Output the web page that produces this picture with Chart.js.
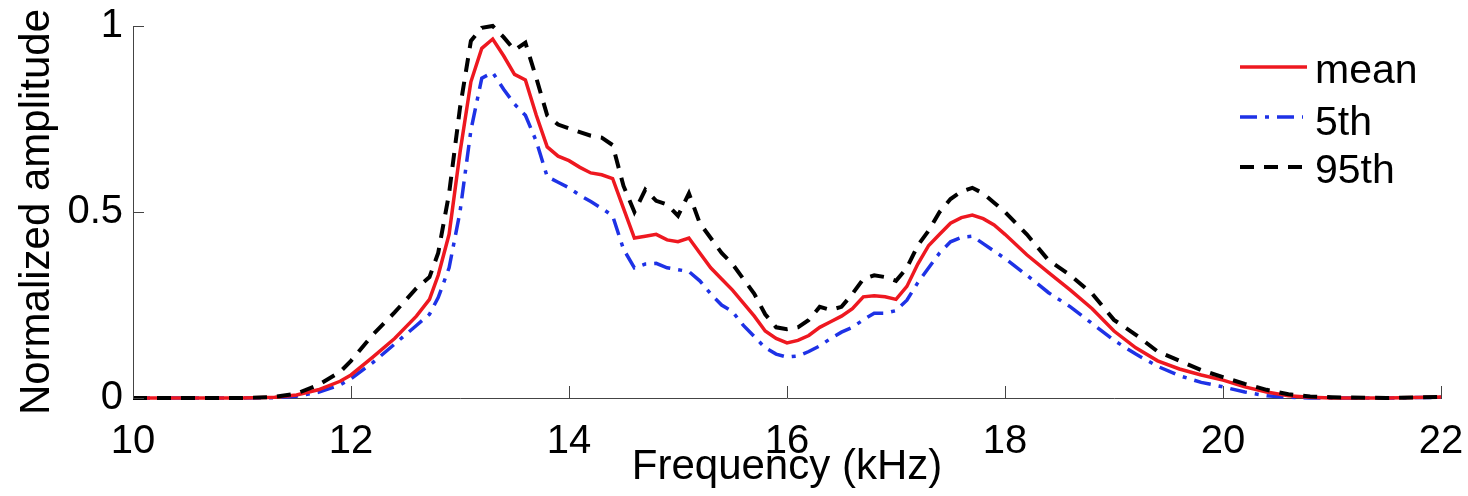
<!DOCTYPE html>
<html>
<head>
<meta charset="utf-8">
<script src="https://cdn.jsdelivr.net/npm/chart.js@4.4.0/dist/chart.umd.min.js"></script>
<style>
  html, body { margin: 0; padding: 0; background: #fff; }
  #wrap { width: 1468px; height: 496px; }
</style>
</head>
<body>
<div id="wrap"><canvas id="c"></canvas></div>
<script>
// frequency grid (kHz)
const freq = [10, 11, 11.3, 11.5, 11.7, 11.9, 12.0, 12.2, 12.4, 12.6, 12.72, 12.8, 12.9,
  13.0, 13.1, 13.2, 13.3, 13.4, 13.5, 13.6, 13.7, 13.8, 13.9,
  14.0, 14.1, 14.2, 14.3, 14.4, 14.5, 14.6, 14.7, 14.8, 14.9,
  15.0, 15.1, 15.2, 15.3, 15.4, 15.5, 15.6, 15.7, 15.8, 15.9,
  16.0, 16.1, 16.2, 16.3, 16.4, 16.5, 16.6, 16.7, 16.8, 16.9,
  17.0, 17.1, 17.2, 17.3, 17.4, 17.5, 17.6, 17.7, 17.8, 17.9,
  18.0, 18.2, 18.4, 18.6, 18.8, 19.0, 19.2, 19.4, 19.6, 19.8,
  20.0, 20.2, 20.4, 20.6, 20.8, 21.0, 21.5, 22];

const meanAmp = [0, 0, 0.002, 0.008, 0.022, 0.045, 0.062, 0.11, 0.16, 0.22, 0.265, 0.33, 0.44,
  0.66, 0.85, 0.94, 0.965, 0.92, 0.87, 0.855, 0.76, 0.675, 0.65,
  0.638, 0.62, 0.605, 0.60, 0.59, 0.51, 0.43, 0.435, 0.44, 0.425,
  0.42, 0.43, 0.39, 0.35, 0.32, 0.29, 0.255, 0.22, 0.18, 0.16,
  0.148, 0.155, 0.168, 0.19, 0.205, 0.22, 0.24, 0.272, 0.275, 0.272,
  0.265, 0.30, 0.36, 0.41, 0.44, 0.47, 0.485, 0.492, 0.482, 0.465,
  0.44, 0.385, 0.337, 0.29, 0.24, 0.18, 0.135, 0.10, 0.078, 0.062,
  0.048, 0.03, 0.016, 0.006, 0.002, 0, 0, 0.003];

const p5Amp = [0, 0, 0.001, 0.005, 0.015, 0.035, 0.052, 0.095, 0.145, 0.195, 0.225, 0.27, 0.35,
  0.50, 0.72, 0.86, 0.875, 0.83, 0.79, 0.76, 0.69, 0.595, 0.58,
  0.565, 0.545, 0.528, 0.51, 0.49, 0.40, 0.35, 0.36, 0.362, 0.35,
  0.345, 0.34, 0.315, 0.28, 0.25, 0.232, 0.195, 0.165, 0.135, 0.118,
  0.11, 0.113, 0.125, 0.14, 0.16, 0.177, 0.19, 0.21, 0.228, 0.228,
  0.235, 0.263, 0.31, 0.35, 0.39, 0.42, 0.432, 0.435, 0.415, 0.395,
  0.375, 0.33, 0.283, 0.245, 0.2, 0.155, 0.118, 0.085, 0.06, 0.042,
  0.03, 0.016, 0.006, 0.002, 0, 0, 0, 0.002];

const p95Amp = [0, 0, 0.003, 0.012, 0.035, 0.07, 0.1, 0.17, 0.23, 0.295, 0.325, 0.39, 0.55,
  0.78, 0.96, 0.995, 1.0, 0.97, 0.935, 0.955, 0.86, 0.76, 0.735,
  0.725, 0.715, 0.705, 0.70, 0.68, 0.57, 0.50, 0.56, 0.53, 0.52,
  0.49, 0.55, 0.47, 0.43, 0.39, 0.36, 0.32, 0.28, 0.225, 0.19,
  0.185, 0.19, 0.21, 0.245, 0.237, 0.245, 0.28, 0.32, 0.33, 0.325,
  0.315, 0.35, 0.41, 0.45, 0.50, 0.535, 0.555, 0.565, 0.55, 0.525,
  0.50, 0.44, 0.37, 0.33, 0.28, 0.21, 0.17, 0.125, 0.10, 0.075,
  0.056, 0.038, 0.022, 0.01, 0.004, 0.002, 0, 0.003];

const xTicks = [10, 12, 14, 16, 18, 20, 22];
const yTicks = [0, 0.5, 1];

const FONT = '"Liberation Sans", Arial, Helvetica, sans-serif';
const AXIS = '#444';

const pts = vals => freq.map((f, i) => ({ x: f, y: vals[i] }));

// inward tick marks, matlab style
const innerTicks = {
  id: 'innerTicks',
  afterDraw(chart) {
    const { ctx, scales: { x, y } } = chart;
    ctx.save();
    ctx.strokeStyle = AXIS;
    ctx.lineWidth = 1;
    ctx.beginPath();
    xTicks.forEach(t => {
      const px = Math.round(x.getPixelForValue(t)) + 0.5;
      ctx.moveTo(px, y.bottom);
      ctx.lineTo(px, y.bottom - 12);
    });
    yTicks.forEach(t => {
      const py = Math.round(y.getPixelForValue(t)) + 0.5;
      ctx.moveTo(x.left, py);
      ctx.lineTo(x.left + 11, py);
    });
    ctx.stroke();
    ctx.restore();
  }
};

// legend box in the top right corner
const cornerLegend = {
  id: 'cornerLegend',
  afterDraw(chart) {
    const { ctx } = chart;
    const rows = [
      { ds: 0, y: 67, base: 83, x2: 1307 },
      { ds: 1, y: 117, base: 135, x2: 1303 },
      { ds: 2, y: 167, base: 183, x2: 1307 },
    ];
    ctx.save();
    rows.forEach(r => {
      const d = chart.data.datasets[r.ds];
      ctx.strokeStyle = d.borderColor;
      ctx.lineWidth = d.borderWidth;
      ctx.setLineDash(d.borderDash || []);
      ctx.beginPath();
      ctx.moveTo(1240, r.y);
      ctx.lineTo(r.x2, r.y);
      ctx.stroke();
      ctx.setLineDash([]);
      ctx.fillStyle = '#000';
      ctx.font = '41px ' + FONT;
      ctx.textBaseline = 'alphabetic';
      ctx.textAlign = 'left';
      ctx.fillText(d.label, 1315, r.base);
    });
    ctx.restore();
  }
};

const data = {
  datasets: [
    {
      label: 'mean',
      data: pts(meanAmp),
      borderColor: 'rgb(238,24,32)',
      borderWidth: 3.5,
      order: 2,
    },
    {
      label: '5th',
      data: pts(p5Amp),
      borderColor: 'rgb(30,50,230)',
      borderWidth: 3.5,
      borderDash: [17, 8, 4, 8],
      order: 3,
    },
    {
      label: '95th',
      data: pts(p95Amp),
      borderColor: '#000',
      borderWidth: 4,
      borderDash: [14, 10],
      order: 1,
    },
  ],
};

const config = {
  type: 'line',
  data,
  options: {
    responsive: true,
    maintainAspectRatio: false,
    animation: false,
    layout: { padding: { left: 0, top: 26, right: 27, bottom: 0 } },
    elements: { point: { radius: 0 }, line: { tension: 0, fill: false } },
    datasets: { line: { clip: false } },
    plugins: { legend: { display: false }, tooltip: { enabled: false } },
    scales: {
      x: {
        type: 'linear',
        min: 10,
        max: 22,
        afterFit: s => { s.height = 98; },
        afterBuildTicks: s => { s.ticks = xTicks.map(v => ({ value: v })); },
        grid: { drawOnChartArea: false, drawTicks: true, tickLength: 20, tickColor: 'rgba(0,0,0,0)' },
        border: { color: AXIS, width: 1 },
        ticks: { color: '#000', padding: 0, maxRotation: 0, font: { family: FONT, size: 40 } },
        title: {
          display: true,
          text: 'Frequency (kHz)',
          color: '#000',
          padding: { top: 0, bottom: 3 },
          font: { family: FONT, size: 42 },
        },
      },
      y: {
        min: 0,
        max: 1,
        afterFit: s => { s.width = 133; },
        afterBuildTicks: s => { s.ticks = yTicks.map(v => ({ value: v })); },
        grid: { drawOnChartArea: false, drawTicks: true, tickLength: 10, tickColor: 'rgba(0,0,0,0)' },
        border: { color: AXIS, width: 1 },
        ticks: {
          color: '#000',
          padding: 0,
          font: { family: FONT, size: 40 },
          callback: v => String(v),
        },
        title: {
          display: true,
          text: 'Normalized amplitude',
          color: '#000',
          padding: { top: 12, bottom: 0 },
          font: { family: FONT, size: 42 },
        },
      },
    },
  },
  plugins: [innerTicks, cornerLegend],
};

new Chart(document.getElementById('c'), config);
</script>
</body>
</html>
